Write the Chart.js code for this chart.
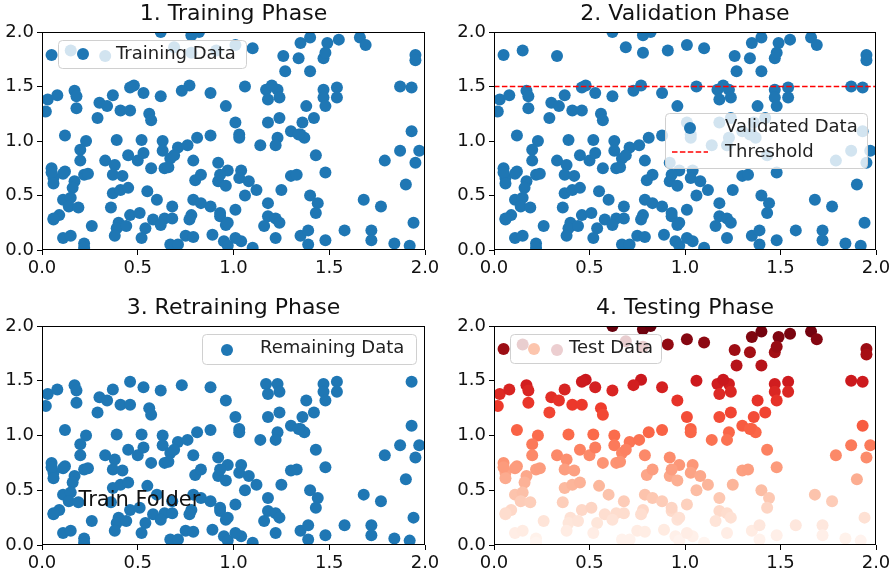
<!DOCTYPE html>
<html>
<head>
<meta charset="utf-8">
<script src="https://cdn.jsdelivr.net/npm/chart.js@4.4.1/dist/chart.umd.min.js"></script>
<style>
  body { margin: 0; background: #fff; width: 896px; height: 578px; position: relative; overflow: hidden; }
  .cell { position: absolute; width: 448px; height: 289px; }
</style>
</head>
<body>
<div class="cell" style="left:0;top:0"><canvas id="c1" width="448" height="289"></canvas></div>
<div class="cell" style="left:448px;top:0"><canvas id="c2" width="448" height="289"></canvas></div>
<div class="cell" style="left:0;top:289px"><canvas id="c3" width="448" height="289"></canvas></div>
<div class="cell" style="left:448px;top:289px"><canvas id="c4" width="448" height="289"></canvas></div>
<script>
// points (same cloud in every panel)
var xs = [0.05, 0.15, 0.33, 0.62, 0.69, 0.78, 0.82, 0.78, 0.91, 1.01, 1.10, 1.35, 1.26, 1.27, 1.34, 0.48, 0.77,
  1.40, 1.49, 1.55, 1.66, 1.69, 1.95, 1.95, 1.47, 1.48, 1.40, 1.47, 1.54, 1.54, 1.47, 1.48, 1.38, 1.87, 1.93,
  1.42, 1.36, 1.35, 1.37, 1.93,
  0.03, 0.08, 0.02, 0.17, 0.18, 0.18, 0.30, 0.34, 0.37, 0.41, 0.46, 0.46, 0.53, 0.62, 0.56, 0.57, 0.29,
  0.12, 0.23, 0.39, 0.52, 0.63,
  0.73, 0.88, 1.06, 1.17, 1.23, 1.18, 1.24, 1.20, 0.96, 1.01, 1.18, 1.24, 1.30, 1.34, 0.81, 0.88, 1.03, 1.23,
  0.20, 0.20, 0.05, 0.06, 0.12, 0.17, 0.22, 0.16, 0.11, 0.15, 0.14, 0.19, 0.06, 0.09, 0.26, 0.11, 0.15, 0.22, 0.22,
  0.45, 0.50, 0.53, 0.33, 0.38, 0.37, 0.42, 0.57, 0.63, 0.64, 0.37, 0.41, 0.45, 0.55, 0.60, 0.36, 0.46, 0.51,
  0.40, 0.39, 0.44, 0.58, 0.64, 0.54, 0.62, 0.52, 0.38, 0.67,
  0.71, 0.76, 0.67, 0.79, 0.92, 0.97, 1.04, 1.14, 1.22, 1.03, 0.80, 0.83, 0.92, 0.93, 0.96, 1.03, 1.08, 1.12,
  1.06, 1.25, 1.30, 1.33, 0.68, 0.68, 0.79, 0.83, 0.88, 0.78, 0.77, 0.93, 0.96, 1.01, 1.18, 1.18, 1.22, 1.24,
  1.16, 1.22, 0.89, 0.75, 0.71, 0.95, 0.97, 1.04, 1.10, 1.35,
  1.43, 1.48, 1.40, 1.44, 1.43, 1.68, 1.77, 1.79, 1.87, 1.97, 1.95, 1.90, 1.94, 1.39, 1.39, 1.48, 1.58, 1.72,
  1.72, 1.84, 1.92, 0.05, 0.06, 0.11, 0.06,
  0.24, 0.69, 0.66, 0.79, 0.97, 1.01, 0.93];
var ys = [1.79, 1.83, 1.78, 2.00, 1.86, 1.97, 2.00, 1.81, 1.83, 1.88, 1.85, 1.90, 1.78, 1.64, 1.76, 1.51, 1.51,
  1.95, 1.90, 1.93, 1.95, 1.88, 1.79, 1.74, 1.76, 1.81, 1.64, 1.47, 1.49, 1.40, 1.40, 1.32, 1.32, 1.50, 1.49,
  1.21, 1.17, 1.06, 1.03, 1.09,
  1.38, 1.42, 1.27, 1.46, 1.41, 1.30, 1.35, 1.32, 1.42, 1.28, 1.28, 1.49, 1.44, 1.41, 1.25, 1.19, 1.21,
  1.05, 1.00, 1.01, 1.01, 1.00,
  1.46, 1.44, 1.50, 1.47, 1.47, 1.38, 1.40, 1.51, 1.32, 1.17, 1.17, 1.21, 1.09, 1.06, 1.03, 1.05, 1.06, 1.03,
  0.92, 0.82, 0.75, 0.66, 0.72, 0.63, 0.69, 0.57, 0.46, 0.48, 0.40, 0.39, 0.28, 0.32, 0.22, 0.11, 0.13, 0.06, 0.02,
  0.87, 0.82, 0.89, 0.82, 0.78, 0.69, 0.68, 0.75, 0.91, 0.75, 0.52, 0.55, 0.57, 0.54, 0.46, 0.39, 0.32, 0.34,
  0.25, 0.20, 0.22, 0.28, 0.29, 0.20, 0.23, 0.11, 0.13, 0.05,
  0.94, 0.96, 0.84, 0.82, 0.80, 0.73, 0.73, 0.96, 0.96, 1.03, 0.64, 0.69, 0.63, 0.69, 0.59, 0.66, 0.63, 0.55,
  0.50, 0.55, 0.68, 0.69, 0.40, 0.29, 0.46, 0.43, 0.40, 0.32, 0.28, 0.31, 0.23, 0.37, 0.43, 0.31, 0.29, 0.25,
  0.22, 0.11, 0.14, 0.13, 0.05, 0.08, 0.04, 0.08, 0.02, 0.13,
  0.87, 0.71, 0.50, 0.43, 0.34, 0.46, 0.40, 0.82, 0.91, 0.91, 0.80, 0.60, 0.25, 0.18, 0.05, 0.09, 0.18, 0.18,
  0.09, 0.06, 0.04, 0.71, 0.61, 0.70, 0.29,
  0.70, 0.87, 0.76, 0.12, 0.25, 0.11, 0.34];
var threshold = 1.5;
var axisTicks = [0, 0.5, 1, 1.5, 2];
var trainFolderAt = { x: 0.19, y: 0.41 };

var blue = '#1f77b4';
var font = 'DejaVu Sans';

// matplotlib "Reds"
var reds = [[255,245,240],[254,224,210],[252,187,161],[252,146,114],[251,106,74],[239,59,44],[203,24,29],[165,15,21],[103,0,13]];
function redColor(v, lo, hi) {
  var t = (v - lo) / (hi - lo);
  t = Math.max(0, Math.min(1, t)) * (reds.length - 1);
  var i = Math.min(Math.floor(t), reds.length - 2), f = t - i;
  var c = reds[i].map(function(a, k) { return Math.round(a + (reds[i + 1][k] - a) * f); });
  return 'rgb(' + c.join(',') + ')';
}

function points(filter) {
  var out = [];
  xs.forEach(function(x, i) {
    if (!filter || filter(ys[i])) out.push({ x: x, y: ys[i] });
  });
  return out;
}

// box round the axes + title centred on the plot area
var framePlugin = {
  id: 'frame',
  afterDatasetsDraw: function(chart, args, opts) {
    var a = chart.chartArea, ctx = chart.ctx;
    ctx.save();
    ctx.strokeStyle = '#000';
    ctx.lineWidth = 1;
    ctx.strokeRect(Math.round(a.left) + 0.5, Math.round(a.top) + 0.5,
      Math.round(a.right - a.left) - 1, Math.round(a.bottom - a.top) - 1);
    ctx.fillStyle = '#111';
    ctx.font = '22px "' + font + '"';
    ctx.textAlign = 'center';
    ctx.textBaseline = 'alphabetic';
    ctx.fillText(opts.title, (a.left + a.right) / 2, a.top - 12);
    ctx.restore();
  }
};

var boxLegend = {
  id: 'boxLegend',
  afterDraw: function(chart, args, opts) {
    if (!opts.box) return;
    var ctx = chart.ctx, b = opts.box;
    ctx.save();
    ctx.fillStyle = 'rgba(255,255,255,0.8)';
    ctx.strokeStyle = '#d0d0d0';
    ctx.lineWidth = 1;
    ctx.beginPath();
    ctx.roundRect(b[0] + 0.5, b[1] + 0.5, b[2], b[3], 4);
    ctx.fill();
    ctx.stroke();
    opts.items.forEach(function(it) {
      if (it.kind === 'line') {
        ctx.strokeStyle = it.color;
        ctx.lineWidth = 1.5;
        ctx.setLineDash([5.5, 2.4]);
        ctx.beginPath();
        ctx.moveTo(it.mx[0], it.my);
        ctx.lineTo(it.mx[1], it.my);
        ctx.stroke();
        ctx.setLineDash([]);
      } else {
        ctx.fillStyle = it.color;
        ctx.beginPath();
        ctx.arc(it.mx, it.my, 6, 0, Math.PI * 2);
        ctx.fill();
      }
      ctx.fillStyle = '#222';
      ctx.font = '18px "' + font + '"';
      ctx.textAlign = 'left';
      ctx.textBaseline = 'middle';
      ctx.fillText(it.label, it.tx, it.ty);
    });
    ctx.restore();
  }
};

var noteText = {
  id: 'noteText',
  afterDatasetsDraw: function(chart, args, opts) {
    if (!opts.text) return;
    var ctx = chart.ctx;
    ctx.save();
    ctx.fillStyle = '#111';
    ctx.font = '21px "' + font + '"';
    ctx.textAlign = 'left';
    ctx.textBaseline = 'middle';
    ctx.fillText(opts.text, chart.scales.x.getPixelForValue(opts.at.x), chart.scales.y.getPixelForValue(opts.at.y));
    ctx.restore();
  }
};

function axis(fit) {
  return {
    type: 'linear',
    min: 0,
    max: 2,
    afterBuildTicks: function(s) { s.ticks = axisTicks.map(function(v) { return { value: v }; }); },
    afterFit: fit,
    grid: { drawOnChartArea: false, drawTicks: true, tickLength: 5, color: '#000' },
    border: { display: false },
    ticks: {
      autoSkip: false,
      maxRotation: 0,
      padding: 3,
      color: '#111',
      font: { family: font, size: 18 },
      callback: function(v) { return v.toFixed(1); }
    }
  };
}

function makeChart(id, title, datasets, lay, legend, note) {
  return new Chart(document.getElementById(id), {
    type: 'scatter',
    data: { datasets: datasets },
    options: {
      responsive: false,
      animation: false,
      layout: { padding: { top: lay.top, right: lay.right, left: 0, bottom: 0 } },
      scales: {
        x: axis(function(s) { s.height = lay.xh; }),
        y: axis(function(s) { s.width = lay.yw; })
      },
      plugins: {
        legend: { display: false },
        tooltip: { enabled: false },
        title: { display: false },
        frame: { title: title },
        boxLegend: legend,
        noteText: note || {}
      }
    },
    plugins: [framePlugin, boxLegend, noteText]
  });
}

function scatterSet(label, data, color) {
  return {
    type: 'scatter',
    label: label,
    data: data,
    order: 1,
    clip: 0,
    pointRadius: 6,
    pointHoverRadius: 6,
    pointBorderWidth: 0,
    pointBackgroundColor: color,
    pointBorderColor: color
  };
}

var topLay = { top: 32, right: 23, xh: 39, yw: 42 };
var topLay2 = { top: 32, right: 20, xh: 39, yw: 46 };
var botLay = { top: 37, right: 23, xh: 33, yw: 42 };
var botLay2 = { top: 37, right: 20, xh: 33, yw: 46 };

makeChart('c1', '1. Training Phase', [scatterSet('Training Data', points(), blue)], topLay, {
  box: [58, 40, 188, 28],
  items: [{ kind: 'point', color: blue, mx: 83, my: 54, tx: 116, ty: 54, label: 'Training Data' }]
});

makeChart('c2', '2. Validation Phase', [
  {
    type: 'line',
    label: 'Threshold',
    data: [{ x: 0, y: threshold }, { x: 2, y: threshold }],
    order: 0,
    borderColor: '#ff0000',
    borderWidth: 1.5,
    borderDash: [5.5, 2.4],
    pointRadius: 0
  },
  scatterSet('Validated Data', points(), blue)
], topLay2, {
  box: [217, 113, 202, 55],
  items: [
    { kind: 'point', color: blue, mx: 242, my: 128, tx: 277, ty: 127, label: 'Validated Data' },
    { kind: 'line', color: '#ff0000', mx: [224, 260], my: 152, tx: 277, ty: 152, label: 'Threshold' }
  ]
});

makeChart('c3', '3. Retraining Phase',
  [scatterSet('Remaining Data', points(function(y) { return y < threshold; }), blue)], botLay, {
  box: [202, 45, 214, 30],
  items: [{ kind: 'point', color: blue, mx: 227, my: 61, tx: 260, ty: 59, label: 'Remaining Data' }]
}, { text: 'Train Folder', at: trainFolderAt });

var lo = Math.min.apply(null, ys), hi = Math.max.apply(null, ys);
makeChart('c4', '4. Testing Phase',
  [scatterSet('Test Data', points(), ys.map(function(y) { return redColor(y, lo, hi); }))], botLay2, {
  box: [62, 45, 151, 29],
  items: [{ kind: 'point', color: '#fcc5ad', mx: 86, my: 60, tx: 121, ty: 59, label: 'Test Data' }]
});
</script>
</body>
</html>
